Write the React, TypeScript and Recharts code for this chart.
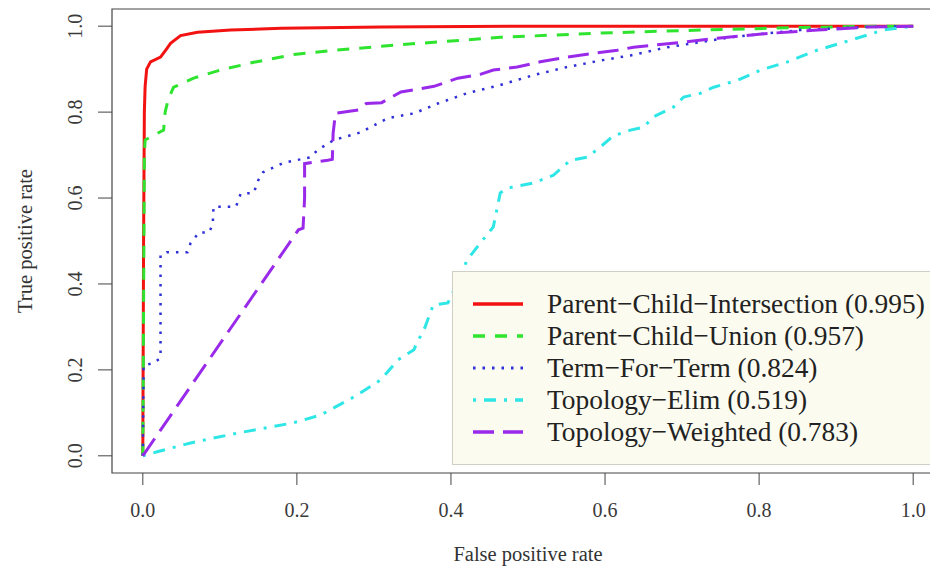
import { LineChart, Line, XAxis, YAxis, ReferenceArea } from "recharts"

// ROC points: [false positive rate, true positive rate]
const intersectionRoc = [
  [0, 0], [0.001, 0.5], [0.002, 0.8], [0.003, 0.86], [0.005, 0.9], [0.01, 0.917], [0.023, 0.928],
  [0.03, 0.945], [0.036, 0.96], [0.049, 0.978], [0.071, 0.986], [0.114, 0.991], [0.18, 0.995],
  [0.31, 0.998], [0.5, 1], [1, 1],
]
const unionRoc = [
  [0, 0], [0.002, 0.7], [0.003, 0.735], [0.013, 0.745], [0.027, 0.758], [0.029, 0.8], [0.033, 0.83],
  [0.04, 0.858], [0.066, 0.879], [0.101, 0.898], [0.144, 0.916], [0.196, 0.934], [0.25, 0.944],
  [0.335, 0.957], [0.464, 0.974], [0.594, 0.984], [0.724, 0.991], [0.853, 0.997], [0.96, 1], [1, 1],
]
const termForTermRoc = [
  [0, 0], [0.001, 0.21], [0.014, 0.216], [0.023, 0.228], [0.023, 0.467], [0.031, 0.474], [0.058, 0.474],
  [0.062, 0.495], [0.073, 0.52], [0.086, 0.52], [0.091, 0.54], [0.091, 0.56], [0.092, 0.58], [0.121, 0.58],
  [0.127, 0.61], [0.144, 0.612], [0.15, 0.642], [0.156, 0.66], [0.183, 0.682], [0.218, 0.695],
  [0.227, 0.712], [0.248, 0.735], [0.283, 0.753], [0.318, 0.786], [0.352, 0.797], [0.383, 0.82],
  [0.421, 0.844], [0.464, 0.863], [0.507, 0.886], [0.551, 0.905], [0.594, 0.92], [0.633, 0.932],
  [0.681, 0.951], [0.767, 0.975], [0.853, 0.991], [0.94, 0.998], [1, 1],
]
const elimRoc = [
  [0, 0], [0.02, 0.01], [0.062, 0.03], [0.123, 0.053], [0.196, 0.077], [0.231, 0.095], [0.274, 0.137],
  [0.309, 0.177], [0.331, 0.223], [0.352, 0.247], [0.355, 0.26], [0.366, 0.298], [0.377, 0.351],
  [0.396, 0.356], [0.409, 0.405], [0.421, 0.456], [0.438, 0.495], [0.455, 0.533], [0.464, 0.612],
  [0.473, 0.623], [0.507, 0.635], [0.533, 0.653], [0.555, 0.688], [0.577, 0.695], [0.594, 0.719],
  [0.611, 0.745], [0.633, 0.758], [0.65, 0.765], [0.663, 0.789], [0.689, 0.812], [0.702, 0.835],
  [0.724, 0.844], [0.741, 0.858], [0.772, 0.874], [0.802, 0.898], [0.837, 0.917], [0.875, 0.944],
  [0.918, 0.967], [0.961, 0.991], [1, 1],
]
const weightedRoc = [
  [0, 0], [0.202, 0.526], [0.208, 0.53], [0.21, 0.6], [0.21, 0.68], [0.24, 0.688], [0.246, 0.69],
  [0.247, 0.75], [0.25, 0.797], [0.28, 0.805], [0.29, 0.82], [0.31, 0.822], [0.323, 0.835],
  [0.335, 0.847], [0.378, 0.86], [0.409, 0.879], [0.438, 0.888], [0.455, 0.898], [0.486, 0.905],
  [0.516, 0.917], [0.551, 0.928], [0.585, 0.937], [0.616, 0.944], [0.637, 0.951], [0.702, 0.963],
  [0.746, 0.972], [0.811, 0.983], [0.876, 0.991], [0.94, 0.998], [1, 1],
]

const seriesNames = [
  "Parent−Child−Intersection (0.995)",
  "Parent−Child−Union (0.957)",
  "Term−For−Term (0.824)",
  "Topology−Elim (0.519)",
  "Topology−Weighted (0.783)",
]
const axisTicks = [0, 0.2, 0.4, 0.6, 0.8, 1]

const FONT = "'Liberation Serif', 'DejaVu Serif', serif"

const series = [
  { name: seriesNames[0], points: intersectionRoc, color: "#f21212", width: 3, dash: undefined },
  { name: seriesNames[1], points: unionRoc, color: "#2fe42f", width: 3, dash: "12 10" },
  { name: seriesNames[2], points: termForTermRoc, color: "#3030d8", width: 2.5, dash: "2.5 7" },
  { name: seriesNames[3], points: elimRoc, color: "#2ee6e6", width: 3, dash: "3 8 12 8" },
  { name: seriesNames[4], points: weightedRoc, color: "#9a2aea", width: 3, dash: "21 9" },
]

const toRows = (pts: number[][]) => pts.map(([x, y]) => ({ x, y }))

function YTick({ y, payload }: any) {
  return (
    <text
      x={75}
      y={y}
      transform={`rotate(-90, 75, ${y})`}
      textAnchor="middle"
      dominantBaseline="central"
      fontSize={20}
      fill="#3a3a3a"
      fontFamily={FONT}
    >
      {payload.value.toFixed(1)}
    </text>
  )
}

function XTick({ x, payload }: any) {
  return (
    <text x={x} y={510} textAnchor="middle" dominantBaseline="central" fontSize={20} fill="#3a3a3a" fontFamily={FONT}>
      {payload.value.toFixed(1)}
    </text>
  )
}

function RocLegend() {
  return (
    <div
      style={{
        position: "absolute",
        left: 452,
        top: 271,
        width: 500,
        padding: "16px 0",
        background: "#fbfbef",
        border: "1px solid #cfcfc4",
        fontFamily: FONT,
        fontSize: 27.4,
        color: "#222",
      }}
    >
      {series.map((s) => (
        <div key={s.name} style={{ display: "flex", alignItems: "center", height: 32 }}>
          <svg width={50} height={10} style={{ marginLeft: 20, marginRight: 24 }}>
            <line x1={0} y1={5} x2={50} y2={5} stroke={s.color} strokeWidth={s.width + 0.5} strokeDasharray={s.dash} />
          </svg>
          <span style={{ whiteSpace: "nowrap" }}>{s.name}</span>
        </div>
      ))}
    </div>
  )
}

export default function App() {
  return (
    <div style={{ position: "absolute", left: 0, top: 0, width: 930, height: 570, overflow: "hidden", background: "#fff" }}>
      <LineChart width={960} height={570} margin={{ top: 9, right: 16, left: 52, bottom: 37 }}>
        <XAxis
          type="number"
          dataKey="x"
          domain={[-0.04, 1.04]}
          ticks={axisTicks}
          axisLine={false}
          tickSize={12}
          tickLine={{ stroke: "#444" }}
          tick={<XTick />}
          height={60}
          label={{ value: "False positive rate", position: "insideBottom", offset: -28, fontSize: 20.5, fill: "#333", fontFamily: FONT }}
        />
        <YAxis
          type="number"
          dataKey="y"
          domain={[-0.04, 1.04]}
          ticks={axisTicks}
          axisLine={false}
          tickSize={14}
          tickLine={{ stroke: "#444" }}
          tick={<YTick />}
          width={60}
          label={{ value: "True positive rate", angle: -90, position: "insideLeft", offset: -27, fontSize: 20.5, fill: "#333", fontFamily: FONT, style: { textAnchor: "middle" } }}
        />
        <ReferenceArea x1={-0.04} x2={1.04} y1={-0.04} y2={1.04} fill="none" stroke="#444" strokeWidth={1.2} ifOverflow="visible" />
        {series.map((s) => (
          <Line
            key={s.name}
            data={toRows(s.points)}
            dataKey="y"
            type="linear"
            stroke={s.color}
            strokeWidth={s.width}
            strokeDasharray={s.dash}
            dot={false}
            activeDot={false}
            isAnimationActive={false}
          />
        ))}
      </LineChart>
      <RocLegend />
    </div>
  )
}
